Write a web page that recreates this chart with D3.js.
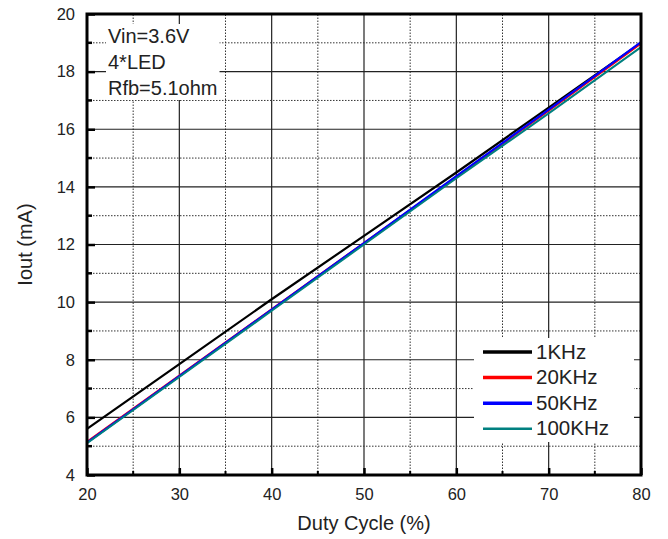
<!DOCTYPE html>
<html>
<head>
<meta charset="utf-8">
<script src="https://cdn.jsdelivr.net/npm/d3@7"></script>
<style>
  body { margin: 0; background: #fff; }
  text { font-family: "Liberation Sans", Arial, sans-serif; fill: #222; }
</style>
</head>
<body>
<svg id="chart" width="668" height="539"></svg>
<script>
// Chart data
const duty = [20, 30, 40, 50, 60, 70, 80];
const series = ["1KHz", "20KHz", "50KHz", "100KHz"];
const iout1k = [5.6, 7.85, 10.1, 12.3, 14.5, 16.75, 19.0];
const iout20k = [5.15, 7.45, 9.75, 12.05, 14.35, 16.65, 18.98];
const iout50k = [5.12, 7.43, 9.74, 12.05, 14.37, 16.68, 19.02];
const iout100k = [5.1, 7.4, 9.7, 12.0, 14.3, 16.55, 18.85];
const colors = ["#000000", "#ff0000", "#0000ff", "#008080"];
const xTicks = [20, 30, 40, 50, 60, 70, 80];
const yTicks = [4, 6, 8, 10, 12, 14, 16, 18, 20];
const notes = ["Vin=3.6V", "4*LED", "Rfb=5.1ohm"];

const svg = d3.select("#chart");
const margin = { left: 87, right: 27, top: 14, bottom: 64 };
const W = 668, H = 539;

const x = d3.scaleLinear().domain([20, 80]).range([margin.left, W - margin.right]);
const y = d3.scaleLinear().domain([4, 20]).range([H - margin.bottom, margin.top]);

const g = svg.append("g");

// grid: solid at majors, dotted at minors
const xMinor = d3.range(25, 80, 10);
const yMinor = d3.range(5, 20, 2);

g.selectAll("line.vmaj")
  .data(xTicks.slice(1, -1))
  .enter().append("line")
  .attr("x1", d => x(d)).attr("x2", d => x(d))
  .attr("y1", y(4)).attr("y2", y(20))
  .style("stroke", "#222").style("stroke-width", 1.2);

g.selectAll("line.vmin")
  .data(xMinor)
  .enter().append("line")
  .attr("x1", d => x(d)).attr("x2", d => x(d))
  .attr("y1", y(4)).attr("y2", y(20))
  .style("stroke", "#333").style("stroke-width", 1).style("stroke-dasharray", "1.5,1.5");

g.selectAll("line.hmaj")
  .data(yTicks.slice(1, -1))
  .enter().append("line")
  .attr("x1", x(20)).attr("x2", x(80))
  .attr("y1", d => y(d)).attr("y2", d => y(d))
  .style("stroke", "#222").style("stroke-width", 1.2);

g.selectAll("line.hmin")
  .data(yMinor)
  .enter().append("line")
  .attr("x1", x(20)).attr("x2", x(80))
  .attr("y1", d => y(d)).attr("y2", d => y(d))
  .style("stroke", "#333").style("stroke-width", 1).style("stroke-dasharray", "1.5,1.5");

// annotation block with white background
const notesG = g.append("g");
notes.forEach((t, i) => {
  notesG.append("text")
    .attr("x", x(20) + 21)
    .attr("y", y(20) + 29 + i * 26)
    .attr("font-size", 20)
    .text(t);
});
const nb = notesG.node().getBBox();
notesG.insert("rect", "text")
  .attr("x", nb.x - 2).attr("y", nb.y - 1)
  .attr("width", nb.width + 4).attr("height", nb.height + 2)
  .style("fill", "#fff");

// lines
const allSeries = [iout1k, iout20k, iout50k, iout100k];
const line = d3.line().x((d, i) => x(duty[i])).y(d => y(d));
g.selectAll("path.series")
  .data(allSeries)
  .enter().append("path")
  .attr("class", "series")
  .attr("d", d => line(d))
  .style("fill", "none")
  .style("stroke", (d, i) => colors[i])
  .style("stroke-width", (d, i) => i === 3 ? 2 : 2.2);

// legend
const leg = g.append("g");
leg.append("rect")
  .attr("x", 474).attr("y", 338).attr("width", 160).attr("height", 104)
  .style("fill", "#fff");
series.forEach((s, i) => {
  const yy = 352 + i * 25.6;
  leg.append("line")
    .attr("x1", 483).attr("x2", 532).attr("y1", yy).attr("y2", yy)
    .style("stroke", colors[i]).style("stroke-width", i === 3 ? 2.5 : 3.5);
  leg.append("text")
    .attr("x", 536).attr("y", yy + 6.5)
    .attr("font-size", 20.5)
    .text(s);
});

// axes: inward ticks, major + minor
const xAxis = d3.axisBottom(x).tickValues(xTicks).tickSize(-7).tickPadding(13).tickFormat(d3.format("d"));
const yAxis = d3.axisLeft(y).tickValues(yTicks).tickSize(-8).tickPadding(12).tickFormat(d3.format("d"));

const xa = g.append("g").attr("transform", `translate(0,${y(4)})`).call(xAxis);
const ya = g.append("g").attr("transform", `translate(${x(20)},0)`).call(yAxis);
[xa, ya].forEach(a => {
  a.select(".domain").remove();
  a.selectAll(".tick line").style("stroke", "#000").style("stroke-width", 2.5);
  a.selectAll(".tick text").attr("font-size", 16.5).style("fill", "#222");
});

g.selectAll("line.xminor")
  .data(xMinor)
  .enter().append("line")
  .attr("x1", d => x(d)).attr("x2", d => x(d))
  .attr("y1", y(4)).attr("y2", y(4) - 4)
  .style("stroke", "#000").style("stroke-width", 2);
g.selectAll("line.yminor")
  .data(yMinor)
  .enter().append("line")
  .attr("x1", x(20)).attr("x2", x(20) + 5)
  .attr("y1", d => y(d)).attr("y2", d => y(d))
  .style("stroke", "#000").style("stroke-width", 2.5);

// frame
g.append("rect")
  .attr("x", x(20)).attr("y", y(20))
  .attr("width", x(80) - x(20)).attr("height", y(4) - y(20))
  .style("fill", "none").style("stroke", "#000").style("stroke-width", 3);

// axis titles
g.append("text")
  .attr("x", x(50)).attr("y", 530)
  .attr("text-anchor", "middle").attr("font-size", 20)
  .text("Duty Cycle (%)");
g.append("text")
  .attr("transform", `translate(32,${y(12)}) rotate(-90)`)
  .attr("text-anchor", "middle").attr("font-size", 20)
  .text("Iout (mA)");
</script>
</body>
</html>
